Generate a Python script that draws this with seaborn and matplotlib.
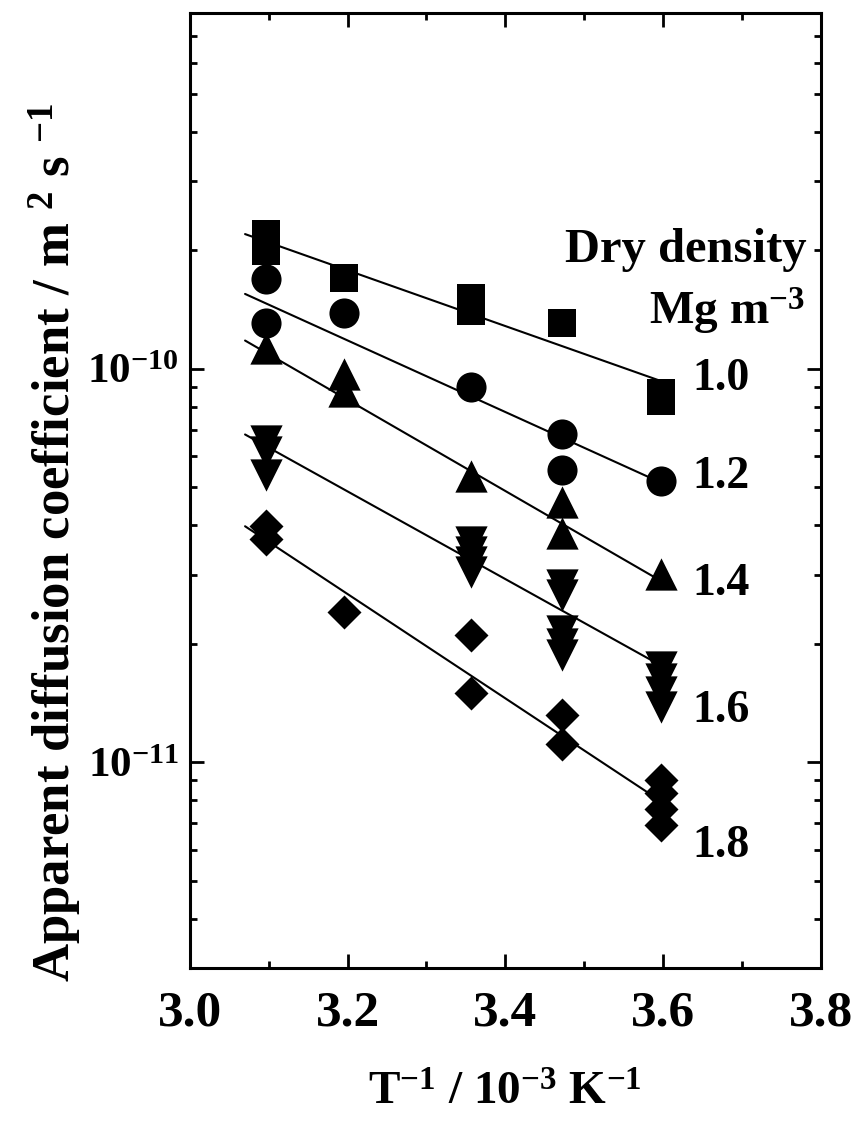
import numpy as np
import pandas as pd
import matplotlib
matplotlib.use("Agg")
import matplotlib.pyplot as plt
import matplotlib.ticker as mticker
import seaborn as sns

# ---------------- data (D in units of 1e-10 m2/s) ----------------
x_10 = [3.096, 3.096, 3.195, 3.356, 3.356, 3.472, 3.597, 3.597]
d_10 = [2.20, 1.99, 1.70, 1.51, 1.40, 1.31, 0.869, 0.830]

x_12 = [3.096, 3.096, 3.195, 3.356, 3.472, 3.472, 3.597]
d_12 = [1.69, 1.31, 1.39, 0.90, 0.684, 0.552, 0.520]

x_14 = [3.096, 3.195, 3.195, 3.356, 3.472, 3.472, 3.597]
d_14 = [1.13, 0.971, 0.880, 0.533, 0.458, 0.382, 0.301]

x_16 = [3.096, 3.096, 3.096, 3.356, 3.356, 3.356, 3.356,
        3.472, 3.472, 3.472, 3.472, 3.472, 3.597, 3.597, 3.597, 3.597]
d_16 = [0.657, 0.613, 0.536, 0.363, 0.342, 0.323, 0.305,
        0.282, 0.266, 0.216, 0.200, 0.187, 0.175, 0.163, 0.151, 0.138]

x_18 = [3.096, 3.096, 3.195, 3.356, 3.356, 3.472, 3.472, 3.597, 3.597, 3.597, 3.597]
d_18 = [0.398, 0.369, 0.241, 0.211, 0.150, 0.132, 0.111, 0.0900, 0.0835, 0.0760, 0.0693]

# fitted lines: endpoints
line_x = [3.07, 3.60]
line_10 = [2.20, 0.927]
line_12 = [1.55, 0.511]
line_14 = [1.18, 0.287]
line_16 = [0.681, 0.175]
line_18 = [0.398, 0.079]

density_labels = ["1.0", "1.2", "1.4", "1.6", "1.8"]
label_y = [0.943, 0.530, 0.284, 0.135, 0.0612]

x_ticks = [3.0, 3.2, 3.4, 3.6, 3.8]
y_major = [1e-11, 1e-10]
SCALE = 1e-10

# ---------------- style ----------------
sns.set_theme(style="ticks")
plt.rcParams["font.family"] = ["Liberation Serif", "DejaVu Serif"]
plt.rcParams["font.weight"] = "bold"
plt.rcParams["text.color"] = "black"
plt.rcParams["axes.labelcolor"] = "black"
plt.rcParams["xtick.color"] = "black"
plt.rcParams["ytick.color"] = "black"
plt.rcParams["mathtext.fontset"] = "custom"
plt.rcParams["mathtext.rm"] = "Liberation Serif:bold"
plt.rcParams["mathtext.it"] = "Liberation Serif:bold"
plt.rcParams["mathtext.bf"] = "Liberation Serif:bold"
plt.rcParams["mathtext.default"] = "rm"

fig = plt.figure(figsize=(8.63, 11.23), dpi=100)
ax = fig.add_axes([0.220, 0.138, 0.731, 0.850])

series = [
    (x_10, d_10, line_10, "s", 400),
    (x_12, d_12, line_12, "o", 470),
    (x_14, d_14, line_14, "^", 540),
    (x_16, d_16, line_16, "v", 540),
    (x_18, d_18, line_18, "D", 300),
]

for xs, ds, ls, mk, sz in series:
    lf = pd.DataFrame({"x": line_x, "D": np.array(ls) * SCALE})
    sns.lineplot(data=lf, x="x", y="D", color="black", linewidth=1.5,
                 ax=ax, zorder=1, legend=False)
    df = pd.DataFrame({"x": xs, "D": np.array(ds) * SCALE})
    sns.scatterplot(data=df, x="x", y="D", marker=mk, s=sz, color="black",
                    edgecolor="black", linewidth=0, ax=ax, zorder=3, legend=False)

ax.set_yscale("log")
ax.set_xlim(3.0, 3.8)
ax.set_ylim(3.0e-12, 8.0e-10)

ax.xaxis.set_major_locator(mticker.FixedLocator(x_ticks))
ax.xaxis.set_minor_locator(mticker.MultipleLocator(0.1))
ax.xaxis.set_major_formatter(mticker.FormatStrFormatter("%.1f"))

ax.yaxis.set_major_locator(mticker.FixedLocator(y_major))
ax.yaxis.set_minor_locator(mticker.LogLocator(base=10, subs=np.arange(2, 10), numticks=20))
ax.yaxis.set_minor_formatter(mticker.NullFormatter())
ax.yaxis.set_major_formatter(mticker.FuncFormatter(
    lambda v, p: r"$10^{%d}$" % int(round(np.log10(v)))))

ax.tick_params(which="both", direction="in", top=True, right=True,
               width=2.0, colors="black")
ax.tick_params(which="major", length=10)
ax.tick_params(which="minor", length=5)
ax.tick_params(axis="x", which="major", labelsize=37, pad=16)
ax.tick_params(axis="y", which="major", labelsize=31, pad=8)
for sp in ax.spines.values():
    sp.set_linewidth(2.2)
    sp.set_color("black")

ax.set_xlabel(r"T$^{-1}$ / 10$^{-3}$ K$^{-1}$", fontsize=34, fontweight="bold")
ax.xaxis.set_label_coords(0.5, -0.110)
ax.set_ylabel(r"Apparent diffusion coefficient / m $^{2}$ s $^{-1}$",
              fontsize=38, fontweight="bold")
ax.yaxis.set_label_coords(-0.168, 0.446)

for lab, yv in zip(density_labels, label_y):
    ax.text(3.637, yv * SCALE, lab, fontsize=33, fontweight="bold",
            ha="left", va="center", color="black")

ax.text(0.977, 0.752, "Dry density", transform=ax.transAxes, fontsize=35,
        fontweight="bold", ha="right", va="center")
ax.text(0.975, 0.688, r"Mg m$^{-3}$", transform=ax.transAxes, fontsize=34,
        fontweight="bold", ha="right", va="center")

fig.savefig("out.png", dpi=100, facecolor="white")
